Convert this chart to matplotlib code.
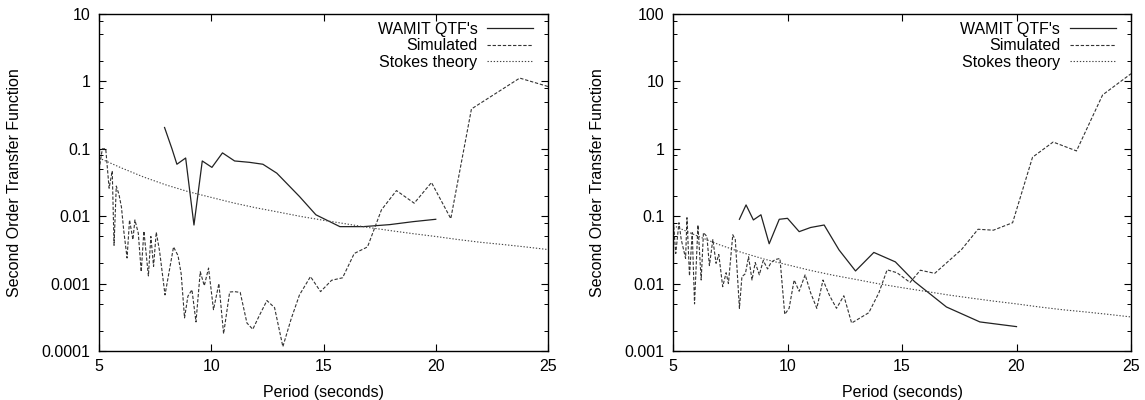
import matplotlib
matplotlib.use("Agg")
import matplotlib.pyplot as plt
from matplotlib.ticker import LogLocator, FixedLocator, FuncFormatter, NullFormatter

plt.rcParams['font.family'] = ['Liberation Sans', 'DejaVu Sans']

# ---------------- Left panel data ----------------
L_wamit_T = [7.92, 8.25, 8.47, 8.86, 9.23, 9.60, 10.03, 10.50, 11.04, 11.70, 12.30, 12.92,
             13.93, 14.66, 15.73, 16.77, 17.95, 18.99, 20.0]
L_wamit_V = [0.207, 0.10, 0.059, 0.073, 0.0074, 0.066, 0.053, 0.087, 0.066, 0.063, 0.059, 0.0435,
             0.0196, 0.0105, 0.0070, 0.0070, 0.0075, 0.0083, 0.0090]

L_sim_T = [5.0, 5.15, 5.3, 5.45, 5.59, 5.67, 5.77, 5.89, 6.0, 6.1, 6.25, 6.36, 6.51, 6.6, 6.75,
           6.88, 7.0, 7.2, 7.31, 7.43, 7.55, 7.7, 7.94, 8.32, 8.52, 8.66, 8.81, 8.96, 9.14,
           9.32, 9.51, 9.69, 9.88, 10.1, 10.34, 10.55, 10.82, 11.04, 11.29, 11.59, 11.85,
           12.15, 12.48, 12.82, 13.19, 13.56, 13.93, 14.42, 14.87, 15.36, 15.85, 16.37,
           16.96, 17.58, 18.25, 19.04, 19.81, 20.67, 21.59, 23.74, 25.0]
L_sim_V = [0.049, 0.10, 0.10, 0.026, 0.047, 0.0037, 0.028, 0.021, 0.0136, 0.0062, 0.0024,
           0.0088, 0.0045, 0.0088, 0.0056, 0.0015, 0.0060, 0.0013, 0.0050, 0.0018, 0.0058,
           0.0030, 0.00068, 0.0035, 0.0026, 0.0014, 0.00031, 0.00065, 0.00081, 0.00027,
           0.0015, 0.00093, 0.0017, 0.00041, 0.0010, 0.00018, 0.00075, 0.00076, 0.00074,
           0.00026, 0.00021, 0.00034, 0.00056, 0.00044, 0.000116, 0.00030, 0.00068,
           0.00127, 0.00076, 0.00112, 0.00122, 0.0028, 0.0035, 0.0124, 0.024, 0.0156,
           0.0316, 0.0092, 0.39, 1.12, 0.84]

# ---------------- Right panel data ----------------
R_wamit_T = [7.90, 8.19, 8.51, 8.84, 9.20, 9.64, 10.0, 10.51, 11.01, 11.60, 12.25, 12.97,
             13.77, 14.71, 15.55, 16.94, 18.40, 20.0]
R_wamit_V = [0.090, 0.147, 0.088, 0.105, 0.039, 0.090, 0.093, 0.059, 0.068, 0.074, 0.0316,
             0.0154, 0.029, 0.021, 0.0107, 0.0045, 0.0027, 0.0023]

R_sim_T = [5.0, 5.12, 5.26, 5.36, 5.55, 5.61, 5.72, 5.84, 5.94, 6.09, 6.23, 6.33, 6.48, 6.59,
           6.74, 6.88, 7.0, 7.17, 7.32, 7.42, 7.61, 7.72, 7.90, 8.01, 8.16, 8.30, 8.45, 8.59,
           8.77, 8.94, 9.13, 9.28, 9.46, 9.67, 9.88, 10.07, 10.29, 10.51, 10.77, 11.01,
           11.28, 11.55, 11.84, 12.14, 12.46, 12.80, 13.55, 13.99, 14.35, 14.78, 15.35,
           15.80, 16.43, 17.60, 18.32, 18.99, 19.83, 20.70, 21.60, 22.62, 23.76, 25.0]
R_sim_V = [0.10, 0.028, 0.080, 0.045, 0.0236, 0.095, 0.013, 0.057, 0.0050, 0.074, 0.0113,
           0.057, 0.050, 0.0185, 0.045, 0.020, 0.027, 0.0090, 0.0145, 0.0100, 0.053, 0.045,
           0.0043, 0.0127, 0.014, 0.025, 0.0113, 0.0205, 0.0135, 0.022, 0.0165, 0.0205,
           0.0227, 0.0236, 0.0035, 0.0043, 0.0113, 0.0077, 0.0135, 0.0073, 0.0043, 0.0113,
           0.0066, 0.0043, 0.0066, 0.0026, 0.0037, 0.0073, 0.016, 0.0145, 0.0104, 0.0158,
           0.0142, 0.032, 0.064, 0.062, 0.080, 0.75, 1.26, 0.93, 6.3, 13.0]

# Stokes theory curve (same in both panels), read at integer periods
stokes_T = list(range(5, 26))
stokes_V = [0.073, 0.052, 0.038, 0.029, 0.023, 0.019, 0.0157, 0.0133, 0.0115, 0.0099, 0.0087,
            0.0077, 0.0068, 0.0061, 0.0055, 0.0050, 0.0045, 0.0041, 0.0038, 0.0035, 0.0032]

x_ticks = [5, 10, 15, 20, 25]
L_yticks = [0.0001, 0.001, 0.01, 0.1, 1, 10]
R_yticks = [0.001, 0.01, 0.1, 1, 10, 100]
labels = ["WAMIT QTF's", "Simulated", "Stokes theory"]

fig = plt.figure(figsize=(11.45, 4.0), dpi=100)
axL = fig.add_axes([99/1145, 1-351/400, 449/1145, 337/400])
axR = fig.add_axes([673/1145, 1-351/400, 458/1145, 337/400])

def fmt(v, pos):
    if v >= 1:
        return "%d" % round(v)
    s = ("%.6f" % v).rstrip('0')
    return s

FS = 11.5
def style(ax, yticks, ylab_x):
    ax.set_yscale('log')
    ax.set_xlim(5, 25)
    ax.set_ylim(yticks[0], yticks[-1])
    ax.xaxis.set_major_locator(FixedLocator(x_ticks))
    ax.yaxis.set_major_locator(FixedLocator(yticks))
    ax.yaxis.set_minor_locator(LogLocator(base=10, subs=[2, 5, 8]))
    ax.yaxis.set_major_formatter(FuncFormatter(fmt))
    ax.yaxis.set_minor_formatter(NullFormatter())
    ax.tick_params(which='major', direction='in', length=5, width=0.8, top=True, right=True,
                   labelsize=FS, colors='black', pad=6)
    ax.tick_params(which='minor', direction='in', length=3, width=0.7, top=True, right=True)
    for sp in ax.spines.values():
        sp.set_linewidth(1.0)
    ax.set_xlabel("Period (seconds)", fontsize=FS, labelpad=8)
    ax.set_ylabel("Second Order Transfer Function", fontsize=FS)
    ax.yaxis.set_label_coords(ylab_x, 0.5)

def draw(ax, wT, wV, sT, sV):
    ax.plot(wT, wV, color='#222222', lw=0.9, label=labels[0])
    ax.plot(sT, sV, color='#333333', lw=0.8, dashes=(3, 1.6), label=labels[1])
    ax.plot(stokes_T, stokes_V, color='#444444', lw=0.8, dashes=(1.2, 1.6), label=labels[2])
    ax.legend(loc='upper right', frameon=False, markerfirst=False, fontsize=FS,
              handlelength=2.9, handletextpad=0.6, labelspacing=0.08,
              borderaxespad=0.1, bbox_to_anchor=(0.985, 1.0))

style(axL, L_yticks, -(99 - 22) / 449)
style(axR, R_yticks, -(673 - 605) / 458)
draw(axL, L_wamit_T, L_wamit_V, L_sim_T, L_sim_V)
draw(axR, R_wamit_T, R_wamit_V, R_sim_T, R_sim_V)

fig.savefig("out.png", dpi=100)
